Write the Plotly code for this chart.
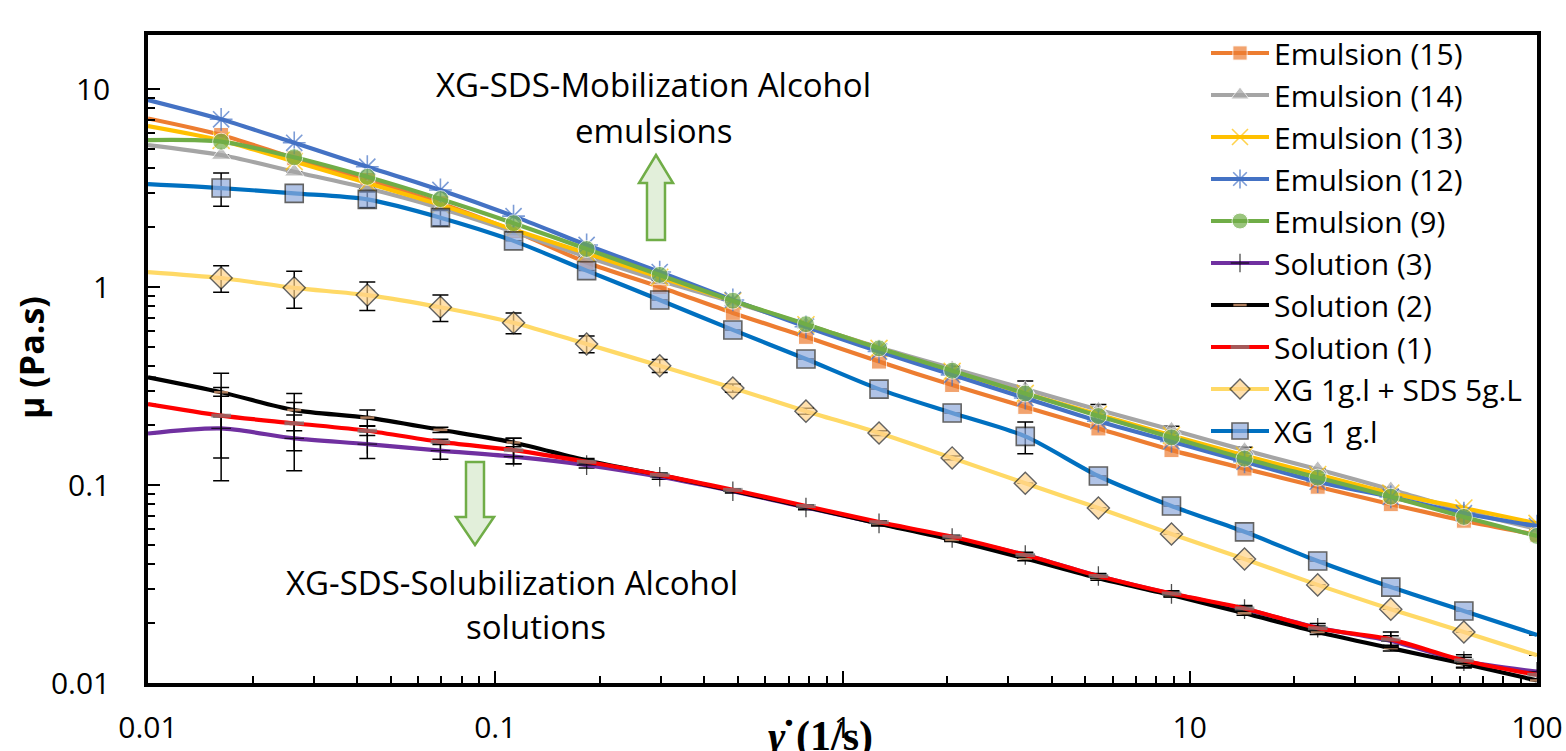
import plotly.graph_objects as go

# ---------------- data ----------------
shear_rate = [0.01, 0.01624, 0.02637, 0.04281, 0.06952, 0.1129, 0.1833, 0.2976, 0.4833, 0.7848,
              1.274, 2.069, 3.360, 5.456, 8.859, 14.38, 23.36, 37.93, 61.58, 100]

emulsion_15 = [7.1, 5.86, 4.47, 3.47, 2.65, 1.92, 1.33, 1.00, 0.74, 0.56,
               0.42, 0.32, 0.248, 0.193, 0.150, 0.121, 0.098, 0.080, 0.066, 0.056]
emulsion_14 = [5.21, 4.64, 3.82, 3.15, 2.50, 1.90, 1.42, 1.08, 0.84, 0.645,
               0.495, 0.388, 0.305, 0.240, 0.190, 0.150, 0.120, 0.095, 0.074, 0.060]
emulsion_13 = [6.5, 5.5, 4.3, 3.35, 2.6, 1.95, 1.48, 1.12, 0.85, 0.645,
               0.49, 0.375, 0.29, 0.227, 0.178, 0.141, 0.113, 0.091, 0.0765, 0.064]
emulsion_12 = [8.8, 7.03, 5.35, 4.05, 3.09, 2.28, 1.63, 1.19, 0.86, 0.63,
               0.472, 0.36, 0.275, 0.21, 0.166, 0.131, 0.104, 0.087, 0.072, 0.062]
emulsion_9 = [5.52, 5.42, 4.52, 3.6, 2.78, 2.10, 1.556, 1.151, 0.853, 0.649,
              0.49, 0.378, 0.29, 0.223, 0.174, 0.136, 0.109, 0.0873, 0.069, 0.0553]
solution_3 = [0.182, 0.193, 0.172, 0.161, 0.149, 0.139, 0.126, 0.110, 0.093, 0.077,
              0.064, 0.054, 0.0443, 0.0347, 0.0282, 0.0236, 0.0190, 0.0163, 0.0129, 0.0114]
solution_2 = [0.35, 0.294, 0.239, 0.219, 0.190, 0.164, 0.133, 0.1125, 0.0935, 0.0775,
              0.0638, 0.0528, 0.0425, 0.0338, 0.0278, 0.0225, 0.0181, 0.0150, 0.0125, 0.0103]
solution_1 = [0.256, 0.224, 0.205, 0.188, 0.165, 0.150, 0.131, 0.1125, 0.0945, 0.0783,
              0.0649, 0.0548, 0.0443, 0.0347, 0.0283, 0.0238, 0.0189, 0.0166, 0.0130, 0.0110]
xg_sds = [1.19, 1.11, 0.99, 0.91, 0.79, 0.66, 0.515, 0.40, 0.309, 0.236,
          0.183, 0.137, 0.102, 0.0765, 0.0566, 0.0423, 0.0313, 0.0236, 0.0181, 0.0138]
xg = [3.31, 3.16, 2.97, 2.77, 2.24, 1.71, 1.21, 0.86, 0.607, 0.433,
      0.305, 0.231, 0.176, 0.111, 0.0783, 0.058, 0.0413, 0.0305, 0.0231, 0.0175]

# error bars (symmetric)
err_e14 = [0, 0, 0, 0, 0, 0, 0, 0, 0, 0, 0, 0.01, 0.03, 0.015, 0.008, 0.005, 0, 0, 0, 0]
err_sol3 = [0, 0.088, 0.054, 0.025, 0.014, 0.011, 0.004, 0.003, 0.002, 0.002,
            0.002, 0.0015, 0.0015, 0.001, 0.001, 0.001, 0.001, 0.001, 0.001, 0]
err_sol2 = [0, 0.073, 0.051, 0.02, 0.006, 0.008, 0.003, 0.002, 0.001, 0.001,
            0.001, 0.001, 0.001, 0.0008, 0.0005, 0.0005, 0.0005, 0.0005, 0.0005, 0]
err_sol1 = [0, 0.087, 0.056, 0.01, 0.005, 0.022, 0.003, 0.002, 0.001, 0.001,
            0.001, 0.001, 0.001, 0.0008, 0.0005, 0.0005, 0.0005, 0.0015, 0.0005, 0]
err_xg_sds = [0, 0.17, 0.21, 0.15, 0.12, 0.08, 0.05, 0.03, 0.015, 0.008,
              0.005, 0.003, 0, 0, 0, 0, 0, 0, 0, 0]
err_xg = [0, 0.6, 0, 0.25, 0.2, 0, 0, 0, 0, 0, 0, 0, 0.032, 0, 0, 0, 0, 0, 0, 0]

y_ticks = [0.01, 0.1, 1, 10]
y_tick_text = ["0.01", "0.1", "1", "10"]
x_ticks = [0.01, 0.1, 1, 10, 100]
x_tick_text = ["0.01", "0.1", "1", "10", "100"]

# ---------------- figure ----------------
n = len(shear_rate)


def sizes(s, last=True):
    out = [s] * n
    out[0] = 0
    if not last:
        out[-1] = 0
    return out


def err(arr):
    return dict(type='data', array=arr, visible=True, color='black', thickness=1.5, width=8)


fig = go.Figure()
LW = 4.2
SM = 0.8

series = [
    dict(name="Emulsion (15)", y=emulsion_15, color="#ED7D31",
         marker=dict(symbol="square", size=sizes(15), color="#ED7D31"), e=None),
    dict(name="Emulsion (14)", y=emulsion_14, color="#A5A5A5",
         marker=dict(symbol="triangle-up", size=sizes(17), color="#A5A5A5"), e=err_e14),
    dict(name="Emulsion (13)", y=emulsion_13, color="#FFC000",
         marker=dict(symbol="x-thin-open", size=sizes(17), color="#FFC000",
                     line=dict(color="#FFC000", width=1.6)), e=None),
    dict(name="Emulsion (12)", y=emulsion_12, color="#4472C4",
         marker=dict(symbol="asterisk-open", size=sizes(19), color="#4472C4",
                     line=dict(color="#4472C4", width=1.6)), e=None),
    dict(name="Emulsion (9)", y=emulsion_9, color="#70AD47",
         marker=dict(symbol="circle", size=sizes(17), color="#70AD47"), e=None),
    dict(name="Solution (3)", y=solution_3, color="#7030A0",
         marker=dict(symbol="cross-thin-open", size=sizes(14), color="black",
                     line=dict(color="black", width=1.3)), e=err_sol3),
    dict(name="Solution (2)", y=solution_2, color="#000000",
         marker=dict(symbol="line-ew-open", size=sizes(10), color="#F4B183",
                     line=dict(color="#F4B183", width=2.5)), e=err_sol2),
    dict(name="Solution (1)", y=solution_1, color="#FF0000",
         marker=dict(symbol="line-ew-open", size=sizes(14), color="#7F7F7F",
                     line=dict(color="#6F6F6F", width=4)), e=err_sol1),
    dict(name="XG 1g.l + SDS 5g.L", y=xg_sds, color="#FFD966",
         marker=dict(symbol="diamond", size=sizes(17, last=False), color="#FFD38A",
                     line=dict(color="#222222", width=1.4)), e=err_xg_sds),
    dict(name="XG 1 g.l", y=xg, color="#0070C0",
         marker=dict(symbol="square", size=sizes(18, last=False), color="#8FAADC",
                     line=dict(color="#222222", width=1.6)), e=err_xg),
]

for i, s in enumerate(series):
    fig.add_trace(go.Scatter(
        x=shear_rate, y=s["y"], name=s["name"], mode="lines+markers",
        line=dict(color=s["color"], width=LW, shape="spline", smoothing=SM),
        marker=s["marker"],
        error_y=err(s["e"]) if s["e"] is not None else None,
        legendgroup=f"g{i}",
    ))

# ---------------- layout ----------------
L, R, T, B = 148, 29, 35, 68
W, H = 1566, 751
PW, PH = W - L - R, H - T - B


def px(x):
    return (x - L) / PW


def py(y):
    return (H - B - y) / PH


def arrow_path(pts):
    return "M " + " L ".join(f"{px(a):.5f},{py(b):.5f}" for a, b in pts) + " Z"


up_arrow = [(656, 155), (673, 183), (665, 183), (665, 240), (647, 240), (647, 183), (639, 183)]
down_arrow = [(466, 462), (484, 462), (484, 517), (494, 517), (475, 545), (456, 517), (466, 517)]

minor_x = [d * 10 ** e for e in range(-2, 2) for d in range(2, 10)]
minor_y = [d * 10 ** e for e in range(-2, 2) for d in range(2, 10) if d * 10 ** e < 19]

font_main = "Open Sans, Noto Sans, sans-serif"

fig.update_layout(
    width=W, height=H,
    margin=dict(l=L, r=R, t=T, b=B, autoexpand=False),
    paper_bgcolor="white", plot_bgcolor="white",
    font=dict(family=font_main, size=30, color="black"),
    showlegend=True,
    legend=dict(x=px(1206), y=py(457), xanchor="left", yanchor="bottom",
                bgcolor="rgba(0,0,0,0)", font=dict(size=30, family=font_main),
                itemwidth=58, tracegroupgap=0, traceorder="normal"),
    xaxis=dict(type="log", range=[-2, 2], tickvals=x_ticks, ticktext=x_tick_text,
               ticks="inside", ticklen=12, tickwidth=1.5, tickcolor="black",
               showline=True, linewidth=3.5, linecolor="black", mirror=True,
               showgrid=False, zeroline=False, ticklabelstandoff=15, automargin=False,
               tickfont=dict(size=30, family=font_main),
               minor=dict(tickvals=minor_x, ticks="inside", ticklen=7, tickwidth=1.5,
                          tickcolor="black", showgrid=False)),
    yaxis=dict(type="log", range=[-2, 1.2727], tickvals=y_ticks, ticktext=y_tick_text,
               ticks="inside", ticklen=12, tickwidth=1.5, tickcolor="black",
               showline=True, linewidth=3.5, linecolor="black", mirror=True,
               showgrid=False, zeroline=False, ticklabelstandoff=28, automargin=False,
               tickfont=dict(size=30, family=font_main),
               minor=dict(tickvals=minor_y, ticks="inside", ticklen=7, tickwidth=1.5,
                          tickcolor="black", showgrid=False)),
    shapes=[
        dict(type="path", xref="paper", yref="paper", path=arrow_path(up_arrow),
             fillcolor="#E2EFDA", line=dict(color="#70AD47", width=2.5)),
        dict(type="path", xref="paper", yref="paper", path=arrow_path(down_arrow),
             fillcolor="#E2EFDA", line=dict(color="#70AD47", width=2.5)),
    ],
    annotations=[
        dict(text="XG-SDS-Mobilization Alcohol", x=px(653), y=py(84), xref="paper", yref="paper",
             showarrow=False, font=dict(size=33, family=font_main), xanchor="center", yanchor="middle"),
        dict(text="emulsions", x=px(654), y=py(130), xref="paper", yref="paper",
             showarrow=False, font=dict(size=33, family=font_main), xanchor="center", yanchor="middle"),
        dict(text="XG-SDS-Solubilization Alcohol", x=px(512), y=py(582), xref="paper", yref="paper",
             showarrow=False, font=dict(size=33, family=font_main), xanchor="center", yanchor="middle"),
        dict(text="solutions", x=px(536), y=py(626), xref="paper", yref="paper",
             showarrow=False, font=dict(size=33, family=font_main), xanchor="center", yanchor="middle"),
        dict(text="<b>μ (Pa.s)</b>", x=px(31), y=py(358), xref="paper", yref="paper",
             showarrow=False, textangle=-90, font=dict(size=34, family=font_main),
             xanchor="center", yanchor="middle"),
        dict(text="<b><i>γ̇</i> (1/s)</b>", x=px(820), y=py(736), xref="paper", yref="paper",
             showarrow=False, font=dict(size=42, family="Liberation Serif, DejaVu Serif, serif"),
             xanchor="center", yanchor="middle"),
    ],
)

fig.write_html("out.html", config={"displayModeBar": False},
               post_script="document.body.style.margin='0px';")
